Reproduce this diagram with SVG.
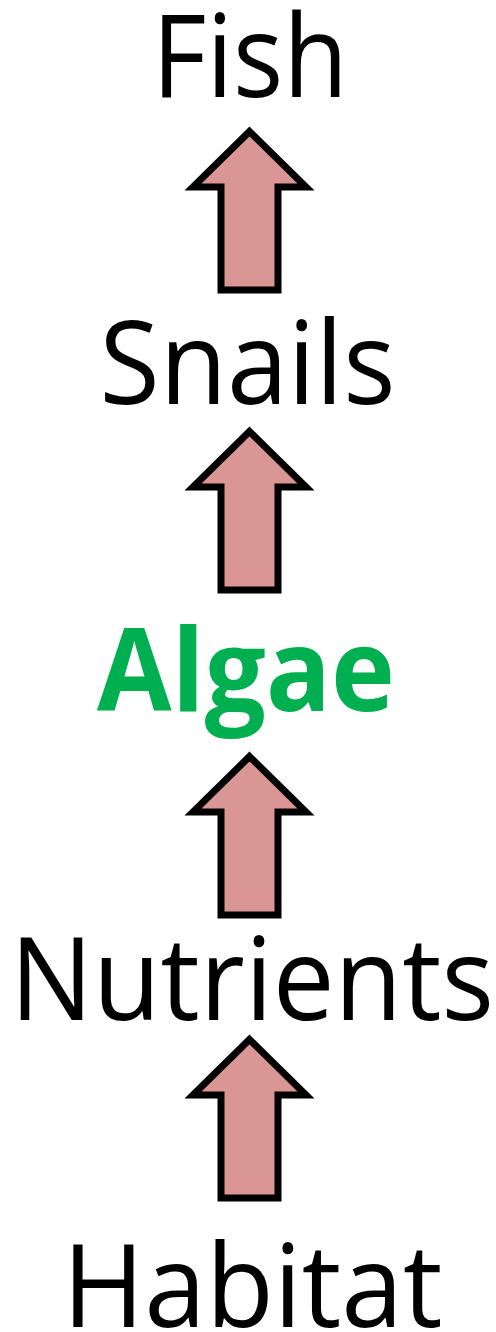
<svg xmlns="http://www.w3.org/2000/svg" width="496" height="1332" viewBox="0 0 496 1332">
<defs>
<style>
.lbl{font-family:"Open Sans","Noto Sans","Liberation Sans",sans-serif;font-size:115px;fill:#000;text-anchor:middle}
.bold{font-weight:bold;fill:#00B050}
.arr{fill:#D99694;stroke:#000;stroke-width:7;stroke-linejoin:miter;stroke-miterlimit:10}
</style>
<path id="up" d="M249.5,4.5 L306,60 L278,60 L278,163 L221,163 L221,60 L193,60 Z"/>
</defs>
<rect width="496" height="1332" fill="#fff"/>
<g id="connectors">
<use href="#up" class="arr" transform="translate(0,127)"/>
<use href="#up" class="arr" transform="translate(0,427)"/>
<use href="#up" class="arr" transform="translate(0,752)"/>
<use href="#up" class="arr" transform="translate(0,1035)"/>
</g>
<g id="fish"><text class="lbl" x="250" y="97" textLength="196" lengthAdjust="spacingAndGlyphs">Fish</text></g>
<g id="snails"><text class="lbl" x="247.5" y="404" textLength="296" lengthAdjust="spacingAndGlyphs">Snails</text></g>
<g id="algae"><text class="lbl bold" x="246" y="711" textLength="298" lengthAdjust="spacingAndGlyphs">Algae</text></g>
<g id="nutrients"><text class="lbl" x="252" y="1020" textLength="484" lengthAdjust="spacingAndGlyphs">Nutrients</text></g>
<g id="habitat"><text class="lbl" x="252.5" y="1327" textLength="380" lengthAdjust="spacingAndGlyphs">Habitat</text></g>
</svg>
